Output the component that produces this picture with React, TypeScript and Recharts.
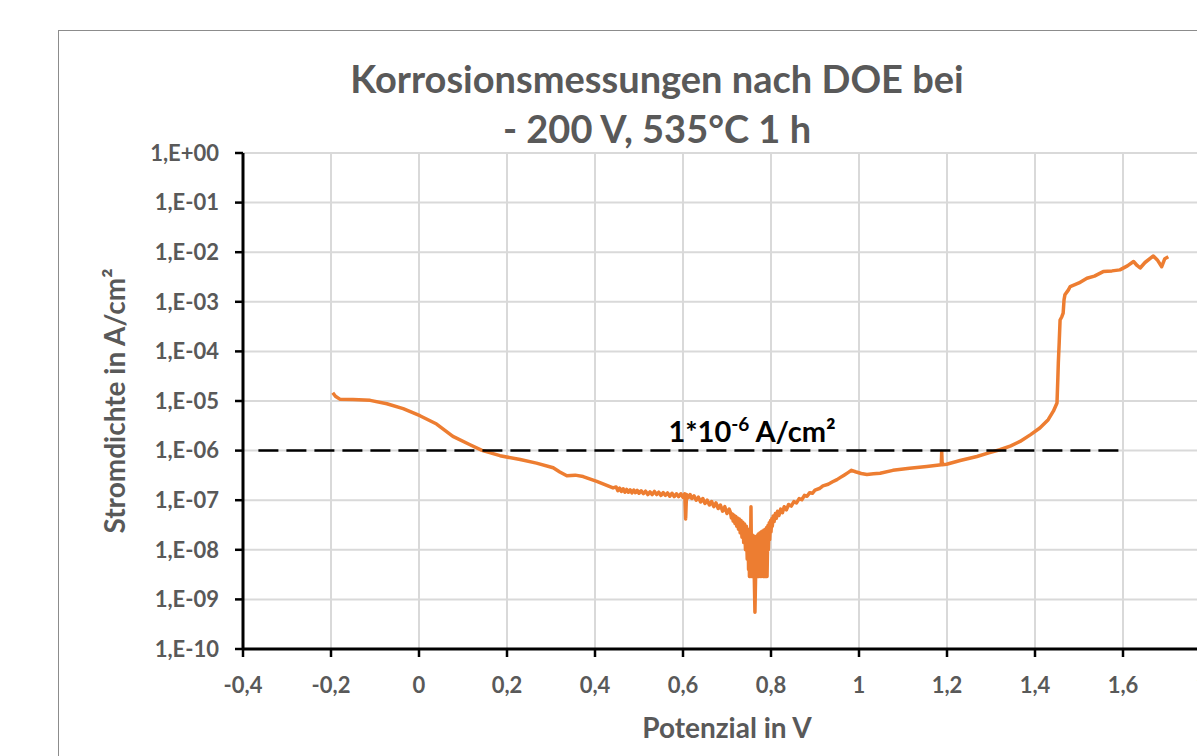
import { LineChart, Line, XAxis, YAxis, CartesianGrid, ReferenceDot } from "recharts";

// Scan in segments: potential in V, current density in A/cm²
const cathodicPotential = [
  -0.196, -0.19, -0.18, -0.15, -0.111, -0.073, -0.036, 0.002, 0.04, 0.077,
  0.116, 0.143, 0.184, 0.23, 0.267, 0.305, 0.32, 0.336, 0.355, 0.373,
  0.404, 0.441,
];
const cathodicCurrent = [
  1.47e-5, 1.25e-5, 1.09e-5, 1.07e-5, 1.03e-5, 8.8e-6, 7.0e-6, 5.05e-6, 3.43e-6, 1.93e-6,
  1.31e-6, 1.01e-6, 7.9e-7, 6.6e-7, 5.6e-7, 4.5e-7, 3.7e-7, 3.1e-7, 3.2e-7, 3.0e-7,
  2.4e-7, 1.77e-7,
];

const passivePotential = [
  0.448, 0.452, 0.456, 0.46, 0.464, 0.468, 0.472, 0.476, 0.48, 0.484,
  0.488, 0.492, 0.496, 0.5, 0.505, 0.51, 0.515, 0.52, 0.525, 0.53,
  0.535, 0.54, 0.545, 0.55, 0.555, 0.56, 0.565, 0.57, 0.575, 0.58,
  0.585, 0.59, 0.595, 0.6, 0.604, 0.606, 0.608, 0.612, 0.616, 0.62,
  0.625, 0.63, 0.635, 0.64, 0.645, 0.65, 0.655, 0.66, 0.665, 0.67,
  0.675, 0.68, 0.685, 0.69, 0.695, 0.7, 0.705,
];
const passiveCurrent = [
  1.85e-7, 1.55e-7, 1.75e-7, 1.5e-7, 1.7e-7, 1.45e-7, 1.65e-7, 1.45e-7, 1.62e-7, 1.4e-7,
  1.6e-7, 1.42e-7, 1.58e-7, 1.38e-7, 1.55e-7, 1.36e-7, 1.52e-7, 1.3e-7, 1.48e-7, 1.3e-7,
  1.5e-7, 1.3e-7, 1.45e-7, 1.25e-7, 1.42e-7, 1.25e-7, 1.4e-7, 1.2e-7, 1.38e-7, 1.18e-7,
  1.35e-7, 1.18e-7, 1.35e-7, 1.15e-7, 1.35e-7, 4.2e-8, 1.3e-7, 1.12e-7, 1.3e-7, 1.08e-7,
  1.22e-7, 1.0e-7, 1.15e-7, 9.2e-8, 1.08e-7, 8.6e-8, 1.0e-7, 8.0e-8, 9.4e-8, 7.4e-8,
  8.8e-8, 6.8e-8, 8.0e-8, 6.0e-8, 7.4e-8, 5.4e-8, 6.6e-8,
];

const minimumPotential = [
  0.708, 0.71, 0.712, 0.714, 0.716, 0.718, 0.72, 0.722, 0.724, 0.726,
  0.728, 0.73, 0.732, 0.734, 0.736, 0.738, 0.74, 0.742, 0.744, 0.746,
  0.748, 0.749, 0.75, 0.751, 0.752, 0.753, 0.7545, 0.756, 0.757, 0.758,
  0.759, 0.76, 0.761, 0.762, 0.7635, 0.765, 0.766, 0.767, 0.768, 0.769,
  0.77, 0.771, 0.772, 0.773, 0.775, 0.776, 0.778, 0.779, 0.781, 0.782,
  0.784, 0.785, 0.787, 0.788, 0.79, 0.791, 0.793, 0.794, 0.796, 0.797,
  0.799, 0.8, 0.802, 0.803, 0.805, 0.807, 0.81, 0.812, 0.815, 0.818,
  0.822, 0.826, 0.83, 0.835,
];
const minimumCurrent = [
  5.6e-8, 4.4e-8, 5.3e-8, 3.8e-8, 5.0e-8, 3.4e-8, 4.7e-8, 3.0e-8, 4.4e-8, 2.6e-8,
  4.2e-8, 2.2e-8, 3.9e-8, 1.8e-8, 3.6e-8, 1.4e-8, 3.3e-8, 1.0e-8, 3.0e-8, 6.5e-9,
  2.6e-8, 4e-9, 2.4e-8, 2.9e-9, 2.2e-8, 2.9e-9, 7.4e-8, 2.9e-9, 2.0e-8, 2.9e-9,
  1.9e-8, 2.9e-9, 1.9e-8, 2.9e-9, 5.5e-10, 2.9e-9, 1.85e-8, 2.9e-9, 1.9e-8, 2.9e-9,
  2.0e-8, 2.9e-9, 2.1e-8, 2.9e-9, 2.2e-8, 2.9e-9, 2.3e-8, 2.9e-9, 2.4e-8, 2.9e-9,
  2.5e-8, 2.9e-9, 2.6e-8, 2.9e-9, 2.8e-8, 2.9e-9, 3.1e-8, 1.0e-8, 3.5e-8, 1.6e-8,
  3.9e-8, 2.3e-8, 4.3e-8, 3.0e-8, 4.8e-8, 3.7e-8, 5.4e-8, 4.3e-8, 6.0e-8, 4.9e-8,
  6.6e-8, 5.6e-8, 7.4e-8, 6.4e-8,
];

const repassivePotential = [
  0.84, 0.846, 0.852, 0.858, 0.864, 0.87, 0.876, 0.882, 0.888, 0.894,
  0.9, 0.91, 0.918, 0.93, 0.94, 0.95, 0.957, 0.966, 0.975, 0.983,
  0.992, 1.005, 1.018, 1.033, 1.048, 1.077, 1.115, 1.154, 1.187, 1.188,
  1.189, 1.199, 1.23, 1.268, 1.295, 1.32, 1.345, 1.366, 1.39, 1.411,
  1.43, 1.442, 1.45,
];
const repassiveCurrent = [
  8.2e-8, 7.6e-8, 9.4e-8, 8.8e-8, 1.08e-7, 1.02e-7, 1.25e-7, 1.2e-7, 1.42e-7, 1.38e-7,
  1.6e-7, 1.72e-7, 1.95e-7, 2.1e-7, 2.35e-7, 2.6e-7, 2.85e-7, 3.2e-7, 3.6e-7, 4.0e-7,
  3.75e-7, 3.45e-7, 3.3e-7, 3.4e-7, 3.5e-7, 4.0e-7, 4.4e-7, 4.8e-7, 5.2e-7, 9.6e-7,
  5.2e-7, 5.3e-7, 6.3e-7, 7.6e-7, 9.0e-7, 1.04e-6, 1.25e-6, 1.53e-6, 2.1e-6, 2.85e-6,
  4.2e-6, 6.3e-6, 9.1e-6,
];

const transpassivePotential = [
  1.452, 1.453, 1.455, 1.457, 1.461, 1.464, 1.466, 1.468, 1.476, 1.48,
  1.5, 1.518, 1.535, 1.555, 1.575, 1.593, 1.61, 1.624, 1.632, 1.639,
  1.65, 1.669, 1.678, 1.688, 1.695, 1.703,
];
const transpassiveCurrent = [
  3.0e-5, 5.8e-5, 1.5e-4, 4.3e-4, 5.0e-4, 5.9e-4, 1.1e-3, 1.38e-3, 1.74e-3, 2.03e-3,
  2.4e-3, 2.99e-3, 3.3e-3, 4.06e-3, 4.2e-3, 4.4e-3, 5.3e-3, 6.5e-3, 5.4e-3, 4.8e-3,
  6.2e-3, 8.4e-3, 7.0e-3, 5.1e-3, 7.4e-3, 8.1e-3,
];

// 1*10^-6 A/cm² limit line
const limitPotential = [-0.365, 1.6];
const limitCurrent = [1e-6, 1e-6];
const limitLabelPotential = 0.757;

const xTicks = [-0.4, -0.2, 0, 0.2, 0.4, 0.6, 0.8, 1, 1.2, 1.4, 1.6, 1.8];
const yTicks = [1, 1e-1, 1e-2, 1e-3, 1e-4, 1e-5, 1e-6, 1e-7, 1e-8, 1e-9, 1e-10];

const potential = [
  ...cathodicPotential,
  ...passivePotential,
  ...minimumPotential,
  ...repassivePotential,
  ...transpassivePotential,
];
const currentDensity = [
  ...cathodicCurrent,
  ...passiveCurrent,
  ...minimumCurrent,
  ...repassiveCurrent,
  ...transpassiveCurrent,
];
const scanData = potential.map((p, i) => ({ potential: p, current: currentDensity[i] }));
const limitData = limitPotential.map((p, i) => ({ potential: p, current: limitCurrent[i] }));

const GREY = "#595959";
const FONT = "Lato, 'Open Sans', sans-serif";
const tickStyle = { fill: GREY, fontSize: 22, fontWeight: 700, fontFamily: FONT };

const formatX = (v: number) => String(v).replace(".", ",");
const formatY = (v: number) => {
  const e = Math.round(Math.log10(v));
  return "1,E" + (e >= 0 ? "+" : "-") + String(Math.abs(e)).padStart(2, "0");
};

const LimitLabel = (props: any) => {
  const { x, y } = props.viewBox;
  return (
    <text
      x={x}
      y={y - 9}
      textAnchor="middle"
      fill="#000"
      fontFamily={FONT}
      fontWeight={700}
      fontSize={29}
    >
      1*10
      <tspan fontSize={19} dy={-11}>
        -6
      </tspan>
      <tspan dy={11}> A/cm²</tspan>
    </text>
  );
};

export default function App() {
  return (
    <div
      style={{
        position: "absolute",
        left: 0,
        top: 0,
        width: 1197,
        height: 756,
        overflow: "hidden",
        background: "#fff",
      }}
    >
      {/* chart area frame */}
      <div
        style={{
          position: "absolute",
          left: 58,
          top: 30,
          width: 1400,
          height: 1000,
          border: "1px solid #8c8c8c",
        }}
      />
      <div
        style={{
          position: "absolute",
          left: 0,
          top: 53,
          width: 1314,
          textAlign: "center",
          fontFamily: FONT,
          fontWeight: 700,
          fontSize: 38,
          lineHeight: "50px",
          color: GREY,
        }}
      >
        Korrosionsmessungen nach DOE bei
        <br />- 200 V, 535°C 1 h
      </div>
      <div style={{ position: "absolute", left: 0, top: 0 }}>
        <LineChart
          width={1300}
          height={756}
          margin={{ top: 153, right: 89, bottom: 7, left: 0 }}
        >
          <CartesianGrid stroke="#d9d9d9" strokeWidth={2} />
          <XAxis
            dataKey="potential"
            type="number"
            domain={[-0.4, 1.8]}
            ticks={xTicks}
            allowDataOverflow
            height={100}
            tickFormatter={formatX}
            tick={tickStyle}
            tickSize={8}
            tickMargin={20}
            axisLine={{ stroke: "#000", strokeWidth: 3 }}
            tickLine={{ stroke: "#000", strokeWidth: 2.5 }}
          />
          <YAxis
            dataKey="current"
            type="number"
            scale="log"
            domain={[1e-10, 1]}
            ticks={yTicks}
            allowDataOverflow
            width={243}
            tickFormatter={formatY}
            tick={tickStyle}
            tickSize={8}
            tickMargin={16}
            axisLine={{ stroke: "#000", strokeWidth: 3 }}
            tickLine={{ stroke: "#000", strokeWidth: 2.5 }}
          />
          <Line
            data={scanData}
            dataKey="current"
            type="linear"
            stroke="#ED7D31"
            strokeWidth={3.5}
            strokeLinejoin="round"
            dot={false}
            isAnimationActive={false}
          />
          <Line
            data={limitData}
            dataKey="current"
            type="linear"
            stroke="#000"
            strokeWidth={2.5}
            strokeDasharray="20 8"
            dot={false}
            isAnimationActive={false}
          />
          <ReferenceDot
            x={limitLabelPotential}
            y={1e-6}
            r={0}
            fill="none"
            stroke="none"
            label={LimitLabel}
          />
        </LineChart>
      </div>
      <div
        style={{
          position: "absolute",
          left: 114,
          top: 401,
          transform: "translate(-50%, -50%) rotate(-90deg)",
          whiteSpace: "nowrap",
          fontFamily: FONT,
          fontWeight: 700,
          fontSize: 28,
          color: GREY,
        }}
      >
        Stromdichte in A/cm²
      </div>
      <div
        style={{
          position: "absolute",
          left: 727,
          top: 727,
          transform: "translate(-50%, -50%)",
          whiteSpace: "nowrap",
          fontFamily: FONT,
          fontWeight: 700,
          fontSize: 28,
          color: GREY,
        }}
      >
        Potenzial in V
      </div>
    </div>
  );
}
